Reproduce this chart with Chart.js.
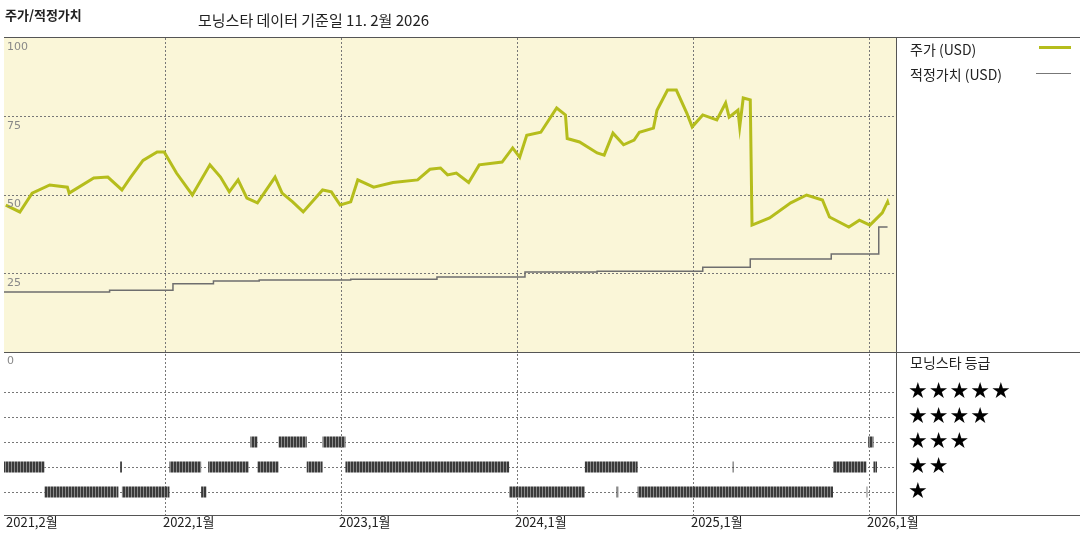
<!DOCTYPE html>
<html>
<head>
<meta charset="utf-8">
<script src="https://cdn.jsdelivr.net/npm/chart.js@4/dist/chart.umd.min.js"></script>
<style>
  body { margin: 0; background: #fff; font-family: "Noto Sans CJK KR", sans-serif; }
  #wrap { position: relative; width: 1080px; height: 540px; }
  .t { position: absolute; white-space: nowrap; color: #222; }
  .stars { position: absolute; left: 908px; font-family: "DejaVu Sans", sans-serif; font-size: 22px; line-height: 22px; color: #000; letter-spacing: 1px; }
</style>
</head>
<body>
<div id="wrap">
  <canvas id="c" width="1080" height="540"></canvas>
  <div class="t" style="left:5px;top:5px;font-size:13px;font-weight:bold;">주가/적정가치</div>
  <div class="t" style="left:198px;top:9px;font-size:15px;">모닝스타 데이터 기준일 11. 2월 2026</div>
  <div class="t" style="left:910px;top:39px;font-size:14px;">주가 (USD)</div>
  <div style="position:absolute;left:1039px;top:46px;width:32px;height:3px;background:#b5bd1c;"></div>
  <div class="t" style="left:910px;top:64px;font-size:14px;">적정가치 (USD)</div>
  <div style="position:absolute;left:1036px;top:73px;width:35px;height:1px;background:#777;"></div>
  <div class="t" style="left:910px;top:352px;font-size:14px;">모닝스타 등급</div>
  <div class="stars" style="top:380px;">★★★★★</div>
  <div class="stars" style="top:405px;">★★★★</div>
  <div class="stars" style="top:430px;">★★★</div>
  <div class="stars" style="top:455px;">★★</div>
  <div class="stars" style="top:480px;">★</div>
</div>
<script>
// price (USD), x = decimal year
var priceYears = [2021.09,2021.17,2021.24,2021.34,2021.44,2021.45,2021.59,2021.67,2021.75,2021.80,2021.87,2021.95,2021.99,
  2022.06,2022.15,2022.25,2022.31,2022.36,2022.41,2022.46,2022.52,2022.62,2022.66,2022.72,2022.78,2022.89,2022.94,2022.99,
  2023.05,2023.09,2023.18,2023.29,2023.43,2023.50,2023.56,2023.60,2023.65,2023.72,2023.78,2023.91,2023.97,
  2024.01,2024.05,2024.13,2024.22,2024.27,2024.28,2024.35,2024.45,2024.49,2024.54,2024.60,2024.66,2024.69,2024.77,2024.79,2024.85,2024.90,2024.96,2024.99,
  2025.05,2025.13,2025.18,2025.20,2025.25,2025.26,2025.28,2025.32,2025.33,2025.43,2025.55,2025.64,2025.73,2025.77,2025.88,2025.94,2026.00,2026.07,2026.10,2026.105];
var priceValues = [46.8,44.6,50.6,53.2,52.5,50.6,55.4,55.7,51.6,55.7,61,63.7,63.7,
  57,50,59.6,55.7,51,54.8,49,47.5,55.7,50.6,47.8,44.6,51.6,51,46.8,
  47.8,54.8,52.5,54,54.8,58.2,58.6,56.4,57,54,59.6,60.5,65,
  62,69,70,77.7,75.5,68,66.9,63.4,62.7,69.7,66,67.5,70,71.3,77,83.4,83.4,76,71.7,
  75.5,73.9,79.3,74.8,77,71.7,80.9,80.3,40.4,42.7,47.5,50,48.4,43,39.8,42,40.4,44.3,47.8,46.8];

var fairYears = [2021.08,2021.68,2022.04,2022.27,2022.53,2023.05,2023.54,2024.04,2024.45,2025.05,2025.32,2025.78,2026.05,2026.10];
var fairValues = [19.1,19.7,21.7,22.6,22.9,23.2,23.9,25.5,25.7,27,29.6,31.2,39.8,39.8];

// Morningstar rating periods [from, to]
var rating1 = [[2021.31,2021.73],[2021.75,2022.02],[2022.20,2022.23],[2023.95,2024.38],[2024.56,2024.57],[2024.68,2025.79],[2025.98,2025.985]];
var rating2 = [[2021.08,2021.31],[2021.74,2021.75],[2022.02,2022.20],[2022.24,2022.47],[2022.52,2022.64],[2022.80,2022.89],[2023.02,2023.95],[2024.38,2024.68],[2025.22,2025.225],[2025.79,2025.98],[2026.02,2026.04]];
var rating3 = [[2022.48,2022.52],[2022.64,2022.80],[2022.89,2023.02],[2025.99,2026.02]];

var yearTicks = [2022,2023,2024,2025,2026];
var yearLabels = ['2021,2월','2022,1월','2023,1월','2024,1월','2025,1월','2026,1월'];
var priceTicks = [25,50,75];
var priceLabels = ['100','75','50','25'];

function pts(xs, ys) { return xs.map(function (x, i) { return {x: x, y: ys[i]}; }); }
function periods(list, level) {
  var out = [];
  list.forEach(function (p) { out.push({x: p[0], y: level}, {x: p[1], y: level}, {x: p[1], y: null}); });
  return out;
}

var pc = document.createElement('canvas');
pc.width = 3; pc.height = 1;
var g = pc.getContext('2d');
g.fillStyle = '#3a3a3a'; g.fillRect(0, 0, 2, 1);
g.fillStyle = '#8a8a8a'; g.fillRect(2, 0, 1, 1);
var stripes = g.createPattern(pc, 'repeat');

function ratingSet(list, level) {
  return { data: periods(list, level), yAxisID: 'yr', borderColor: stripes, borderWidth: 11,
    borderCapStyle: 'butt', pointRadius: 0, spanGaps: false, tension: 0 };
}

var frame = {
  id: 'frame',
  beforeDraw: function (chart) {
    var ctx = chart.ctx, a = chart.chartArea, yp = chart.scales.y;
    ctx.save();
    ctx.fillStyle = '#faf6d8';
    ctx.fillRect(a.left, yp.top, a.right - a.left, yp.bottom - yp.top);
    ctx.restore();
  },
  afterDraw: function (chart) {
    var ctx = chart.ctx, a = chart.chartArea, yp = chart.scales.y, x = chart.scales.x;
    ctx.save();
    ctx.strokeStyle = '#555'; ctx.lineWidth = 1;
    ctx.beginPath();
    ctx.moveTo(a.left, 37.5); ctx.lineTo(1080, 37.5);
    ctx.moveTo(a.right + 0.5, 37.5); ctx.lineTo(a.right + 0.5, a.bottom);
    ctx.moveTo(a.left, a.bottom + 0.5); ctx.lineTo(1080, a.bottom + 0.5);
    ctx.moveTo(a.left, yp.bottom + 0.5); ctx.lineTo(1080, yp.bottom + 0.5);
    ctx.stroke();
    ctx.fillStyle = '#888'; ctx.font = '11px "DejaVu Sans"'; ctx.textBaseline = 'top';
    ctx.fillText(priceLabels[0], a.left + 3, yp.top + 4);
    for (var i = 0; i < priceTicks.length; i++) {
      ctx.fillText(String(priceTicks[i]), a.left + 3, yp.getPixelForValue(priceTicks[i]) + 4);
    }
    ctx.fillText('0', a.left + 3, yp.bottom + 4);
    ctx.fillStyle = '#222'; ctx.font = '13px "Noto Sans CJK KR"';
    ctx.fillText(yearLabels[0], a.left + 2, a.bottom + 1);
    for (var j = 0; j < yearTicks.length; j++) {
      ctx.fillText(yearLabels[j + 1], x.getPixelForValue(yearTicks[j]) - 3, a.bottom + 1);
    }
    ctx.restore();
  }
};

var dashGrid = { color: '#777', lineWidth: 1, drawTicks: false };

new Chart(document.getElementById('c'), {
  type: 'line',
  plugins: [frame],
  data: {
    datasets: [
      { data: pts(priceYears, priceValues), yAxisID: 'y', borderColor: '#b5bd1c', borderWidth: 3,
        pointRadius: 0, tension: 0 },
      { data: pts(fairYears, fairValues), yAxisID: 'y', borderColor: '#6e6e6e', borderWidth: 1.5,
        pointRadius: 0, stepped: true },
      ratingSet(rating1, 1),
      ratingSet(rating2, 2),
      ratingSet(rating3, 3)
    ]
  },
  options: {
    responsive: false,
    animation: false,
    events: [],
    layout: { padding: { left: 4, right: 184, top: 38, bottom: 25 } },
    plugins: { legend: { display: false }, tooltip: { enabled: false } },
    scales: {
      x: {
        type: 'linear', min: 2021.08, max: 2026.148,
        afterBuildTicks: function (s) { s.ticks = yearTicks.map(function (v) { return {value: v}; }); },
        ticks: { display: false },
        grid: dashGrid, border: { display: false, dash: [2, 2] }
      },
      yr: {
        type: 'linear', min: 0.08, max: 6.6, position: 'left', stack: 'p', stackWeight: 163,
        afterBuildTicks: function (s) { s.ticks = [1, 2, 3, 4, 5].map(function (v) { return {value: v}; }); },
        ticks: { display: false },
        grid: dashGrid, border: { display: false, dash: [2, 2] }
      },
      y: {
        type: 'linear', min: 0, max: 100, position: 'left', stack: 'p', stackWeight: 314,
        afterBuildTicks: function (s) { s.ticks = priceTicks.map(function (v) { return {value: v}; }); },
        ticks: { display: false },
        grid: dashGrid, border: { display: false, dash: [2, 2] }
      }
    }
  }
});
</script>
</body>
</html>
